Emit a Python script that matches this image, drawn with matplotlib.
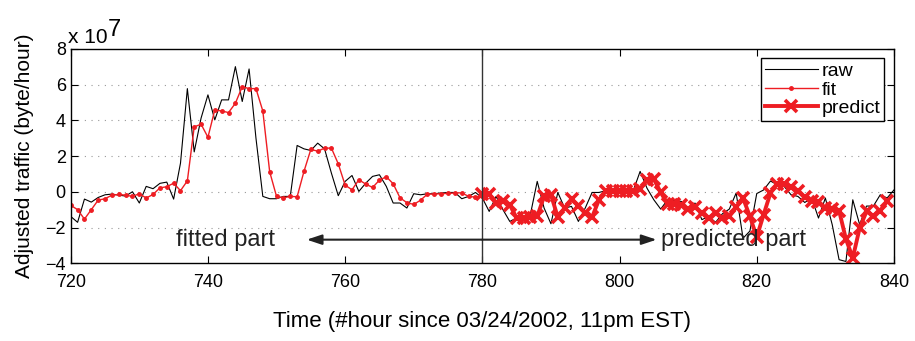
import numpy as np
import matplotlib.pyplot as plt

plt.rcParams['font.family'] = ['Liberation Sans', 'DejaVu Sans']

# traffic in units of 1e7 byte/hour
hours_raw = np.arange(720, 841)
raw = [-1.38, -1.71, -0.41, -0.58, -0.32, -0.17, -0.13, -0.19, -0.24, 0.00,
       -0.63, 0.30, 0.17, 0.47, 0.54, -0.41, 1.60, 5.77, 2.23, 4.12,
       5.42, 4.02, 5.14, 5.14, 7.00, 5.05, 6.87, 3.00, -0.26, -0.39,
       -0.39, -0.26, -0.26, 2.59, 2.40, 2.31, 2.72, 2.40, 1.04, -0.22,
       0.58, 0.91, 0.02, 0.48, 0.86, 0.95, 0.30, -0.63, -0.63, -0.91,
       -0.11, -0.17, -0.11, -0.11, -0.07, -0.04, -0.04, -0.39, -0.26, -0.04,
       -0.35, -1.10, -0.26, -1.00, -1.66, -1.47, -1.47, -1.28, 0.58, -0.91,
       -1.79, -0.04, -0.91, -0.82, -1.66, -0.91, -0.04, -0.04, 0.06, 0.06,
       0.06, 0.06, 0.06, 1.14, 0.20, -0.45, -0.97, -0.45, -0.50, -0.54,
       -1.00, -0.63, -1.56, -1.38, -1.71, -1.23, -0.97, -0.07, -2.60, -2.20,
       -0.10, 0.10, 0.60, 0.39, 0.30, -0.17, -0.26, -0.60, -0.35, -1.47,
       -0.35, -1.84, -3.80, -3.90, -0.45, -1.84, -0.80, -0.80, -0.17, -0.35,
       0.10]

hours_fit = np.arange(720, 781)
fit = [-0.76, -1.00, -1.53, -1.00, -0.47, -0.39, -0.19, -0.15, -0.19, -0.26,
       -0.11, -0.35, -0.15, 0.22, 0.28, 0.48, 0.06, 0.61, 3.63, 3.78,
       3.05, 4.58, 4.52, 4.43, 4.95, 5.88, 5.77, 5.77, 4.52, 1.12,
       -0.26, -0.34, -0.26, -0.28, 1.14, 2.37, 2.27, 2.44, 2.44, 1.56,
       0.37, 0.11, 0.67, 0.43, 0.24, 0.65, 0.84, 0.45, -0.34, -0.61,
       -0.71, -0.47, -0.13, -0.13, -0.11, -0.09, -0.07, -0.06, -0.26, -0.30,
       -0.22]

hours_pred = np.arange(780, 840)
predict = [-0.11, -0.13, -0.63, -0.54, -0.73, -1.47, -1.47, -1.43, -1.38, -0.26,
           -0.17, -1.42, -0.91, -0.41, -0.78, -1.19, -1.42, -0.45, 0.06, 0.06,
           0.06, 0.06, 0.06, 0.15, 0.67, 0.71, -0.04, -0.67, -0.67, -0.74,
           -0.97, -0.86, -1.19, -1.47, -1.19, -1.47, -1.38, -0.86, -0.35, -1.38,
           -2.53, -1.28, -0.07, 0.45, 0.45, 0.24, 0.02, -0.30, -0.50, -0.55,
           -0.90, -0.95, -1.05, -2.65, -3.70, -2.03, -1.10, -1.35, -1.05, -0.54]

red = '#ee1d23'

fig = plt.figure(figsize=(9.15, 3.41), dpi=100)
ax = fig.add_axes([0.0773, 0.228, 0.8997, 0.629])

ax.plot(hours_raw, raw, color='black', lw=0.8, label='raw')
ax.plot(hours_fit, fit, color=red, lw=1.0, marker='.', ms=5, label='fit')
ax.plot(hours_pred, predict, color=red, lw=2.8, marker='x', ms=8.5, mew=2.6,
        label='predict')

# split between fitted and predicted parts
ax.axvline(780, color='#333333', lw=1.0)
arrow_y = -2.68
for x_end in (754.4, 805.4):
    ax.annotate('', xy=(x_end, arrow_y), xytext=(780, arrow_y),
                arrowprops=dict(arrowstyle='-|>,head_length=0.9,head_width=0.3',
                                color='#222222', lw=1.5, shrinkA=0, shrinkB=0))
ax.text(749.8, arrow_y, 'fitted part', ha='right', va='center', fontsize=17,
        color='#222222')
ax.text(806.0, arrow_y, 'predicted part', ha='left', va='center', fontsize=17,
        color='#222222')

ax.set_xlim(720, 840)
ax.set_ylim(-4, 8)
ax.set_xticks(np.arange(720, 841, 20))
ax.set_yticks(np.arange(-4, 9, 2))
ax.tick_params(direction='in', top=True, right=True, length=5, labelsize=13,
               width=0.8)
ax.tick_params(axis='x', pad=8)
for s in ax.spines.values():
    s.set_linewidth(1.0)

for yv in [-2, 0, 2, 4, 6]:
    ax.axhline(yv, color='#999999', lw=0.8, dashes=(1, 5), zorder=0)

# exponent label above the y axis
fig.text(68 / 915, 1 - 43 / 341, 'x 10', fontsize=15, va='baseline', ha='left')
fig.text(108 / 915, 1 - 36 / 341, '7', fontsize=17, va='baseline', ha='left')

ax.set_xlabel('Time (#hour since 03/24/2002, 11pm EST)', fontsize=16,
              labelpad=14)
ax.set_ylabel('Adjusted traffic (byte/hour)', fontsize=15, labelpad=8)

leg = ax.legend(loc='upper right', fontsize=14, frameon=True, fancybox=False,
                edgecolor='black', framealpha=1, handlelength=2.7,
                handletextpad=0.2, labelspacing=0.05, borderpad=0.2,
                borderaxespad=0.5)
leg.get_frame().set_linewidth(1.0)

fig.savefig('out.png', dpi=100)
